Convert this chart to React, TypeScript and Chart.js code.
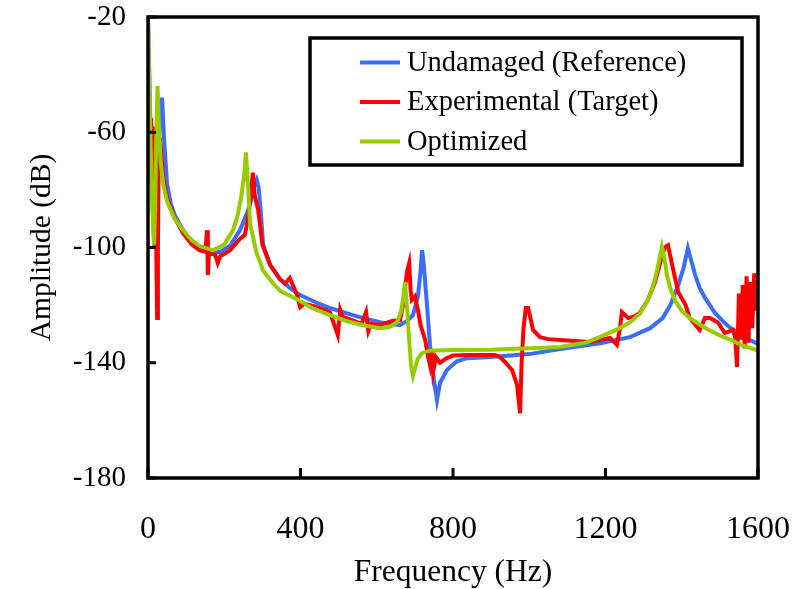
import React, { useEffect, useRef } from "react";
import { Chart, registerables } from "chart.js";

Chart.register(...registerables);

// ---- Data (frequency in Hz, amplitude in dB) ----
const undamagedHz = [0, 3, 6, 10, 14, 17, 21, 26, 31, 37, 42, 50, 60, 71, 92, 115, 136, 170, 190, 215, 241, 260, 272, 280, 285, 290, 296, 302, 320, 346, 372, 399, 440, 477, 520, 564, 609, 640, 661, 680, 695, 708, 715, 719, 724, 730, 740, 750, 758, 766, 784, 810, 837, 900, 1000, 1081, 1186, 1264, 1317, 1350, 1370, 1391, 1405, 1416, 1428, 1435, 1447, 1461, 1487, 1519, 1545, 1570, 1600];
const undamagedDb = [-20, -38, -55, -75, -92, -100, -88, -70, -56, -48, -62, -78, -85, -89, -94, -98, -100.5, -102, -101.5, -99.5, -94, -88, -83, -78, -76.5, -79, -88, -99, -106, -111, -114, -116.5, -119, -121, -122.8, -124.5, -125.9, -126.7, -126.9, -125.5, -123.5, -117, -108, -100.9, -107, -117, -134.5, -146, -153, -147, -142.5, -139.5, -138.4, -138, -137, -135.2, -133.2, -131.1, -128, -124.5, -120, -113, -107, -100.2, -106, -109.5, -114, -117.5, -122.7, -127, -129.5, -131.5, -133.5];

const experimentalHz = [0, 3, 5, 8, 11, 14, 18, 21, 24, 26, 28, 31, 34, 40, 50, 71, 92, 115, 136, 150, 155, 157, 160, 176, 183, 190, 215, 241, 254, 262, 268, 275, 280, 289, 300, 320, 333, 346, 360, 372, 380, 391, 399, 410, 440, 477, 498, 504, 510, 540, 560, 572, 578, 585, 609, 640, 661, 669, 675, 680, 685, 689, 692, 700, 708, 715, 727, 734, 740, 745, 748, 755, 766, 784, 800, 845, 910, 923, 936, 955, 968, 976, 980, 985, 991, 997, 1004, 1010, 1028, 1050, 1081, 1159, 1212, 1230, 1238, 1243, 1252, 1259, 1275, 1290, 1310, 1330, 1343, 1355, 1364, 1370, 1375, 1383, 1391, 1410, 1421, 1447, 1461, 1474, 1495, 1513, 1534, 1540, 1545, 1550, 1555, 1560, 1565, 1570, 1575, 1580, 1585, 1590, 1595, 1600];
const experimentalDb = [-56, -52, -60, -55, -65, -58, -75, -95, -124.5, -100, -72, -62, -66, -76, -83, -90, -95, -99, -101, -101.5, -94, -109.5, -102, -102.5, -105.4, -103, -101, -97, -95.7, -90, -84, -74, -82, -87, -99, -106, -108.5, -111, -112.5, -110.6, -113, -116.5, -120.7, -119.5, -120.5, -122.4, -130.4, -121.7, -124, -125.5, -126.5, -122.4, -129, -126.5, -126.9, -125.5, -125.2, -120, -113, -108, -105.4, -115, -118.2, -117, -121.7, -127, -132, -137.5, -141, -136, -143, -138, -140, -138.4, -137.5, -137.3, -137.3, -138, -139.7, -142.5, -147.7, -157.5, -140, -128, -121, -121, -125, -128.6, -131.1, -131.8, -132.1, -132.8, -131.4, -133.8, -128, -122.4, -123.5, -124.5, -124, -122.7, -118.5, -112, -105.5, -100, -99.2, -103, -106.1, -111, -115.5, -120, -124.5, -128.6, -124.5, -124.5, -126, -129.7, -128.6, -131, -141.5, -116, -132, -113, -135, -110, -133, -112, -128, -109, -122, -110];

const optimizedHz = [0, 3, 6, 10, 14, 16, 19, 22, 25, 28, 33, 40, 50, 70, 92, 115, 136, 170, 200, 223, 235, 245, 252, 257, 262, 268, 285, 302, 325, 346, 391, 430, 477, 520, 564, 609, 635, 653, 664, 670, 674, 679, 685, 690, 695, 700, 708, 720, 740, 800, 900, 1000, 1081, 1150, 1186, 1230, 1264, 1290, 1304, 1317, 1330, 1340, 1348, 1355, 1361, 1372, 1383, 1400, 1421, 1450, 1474, 1500, 1527, 1560, 1600];
const optimizedDb = [-20, -40, -60, -80, -95, -99, -85, -60, -44, -55, -70, -78, -84, -90, -94, -97.5, -99.5, -101, -99, -94, -89, -82, -75, -67, -78, -92, -102, -108, -112, -115, -118, -121, -123.5, -125.5, -127, -128, -127.5, -126, -122, -117, -112, -120, -132, -141, -144.5, -142, -138.5, -136.5, -135.8, -135.6, -135.5, -135, -134.5, -133, -131, -128.5, -126, -123, -120, -116.5, -111, -105, -99.8, -104, -109.5, -115, -118.5, -122, -124.5, -127, -128.8, -130.5, -132, -134, -135.8];

const seriesNames = ["Undamaged (Reference)", "Experimental (Target)", "Optimized"];
const seriesColors = ["#3b6ef6", "#ff0000", "#99cc00"];

const xTicks = [0, 400, 800, 1200, 1600];
const yTicks = [-180, -140, -100, -60, -20];

const SERIF = "'Liberation Serif', 'Times New Roman', serif";

function toPoints(xs: number[], ys: number[]) {
  return xs.map((x, i) => ({ x, y: ys[i] }));
}

const framePlugin = {
  id: "frameAndLegend",
  afterDraw(chart: any) {
    const { ctx, chartArea, scales } = chart;
    const { left, right, top, bottom } = chartArea;
    ctx.save();
    ctx.strokeStyle = "#000";
    ctx.lineWidth = 3.5;
    ctx.strokeRect(left, top, right - left, bottom - top);
    ctx.lineWidth = 3;
    xTicks.forEach((v) => {
      const px = scales.x.getPixelForValue(v);
      ctx.beginPath();
      ctx.moveTo(px, bottom);
      ctx.lineTo(px, bottom - 10);
      ctx.stroke();
    });
    yTicks.forEach((v) => {
      const py = scales.y.getPixelForValue(v);
      ctx.beginPath();
      ctx.moveTo(left, py);
      ctx.lineTo(left + 8, py);
      ctx.stroke();
    });
    const bx = left + 162;
    const by = top + 21;
    const bw = 432;
    const bh = 127;
    ctx.fillStyle = "#fff";
    ctx.fillRect(bx, by, bw, bh);
    ctx.lineWidth = 3.5;
    ctx.strokeRect(bx, by, bw, bh);
    ctx.font = `28.5px ${SERIF}`;
    ctx.textBaseline = "middle";
    ctx.textAlign = "left";
    seriesNames.forEach((name, i) => {
      const ry = by + 24.5 + i * 39.5;
      ctx.strokeStyle = seriesColors[i];
      ctx.lineWidth = 4;
      ctx.beginPath();
      ctx.moveTo(bx + 50, ry);
      ctx.lineTo(bx + 90, ry);
      ctx.stroke();
      ctx.fillStyle = "#000";
      ctx.fillText(name, bx + 97, ry + 1);
    });
    ctx.restore();
  },
};

export default function App() {
  const canvasRef = useRef<HTMLCanvasElement | null>(null);

  useEffect(() => {
    if (!canvasRef.current) return;
    const datasets = [
      { xs: undamagedHz, ys: undamagedDb, order: 2 },
      { xs: experimentalHz, ys: experimentalDb, order: 1 },
      { xs: optimizedHz, ys: optimizedDb, order: 0 },
    ].map((s, i) => ({
      label: seriesNames[i],
      data: toPoints(s.xs, s.ys),
      borderColor: seriesColors[i],
      backgroundColor: seriesColors[i],
      borderWidth: 4,
      pointRadius: 0,
      showLine: true,
      tension: 0,
      order: s.order,
    }));

    const zeroPad = (scale: any) => {
      scale.paddingLeft = 0;
      scale.paddingRight = 0;
      scale.paddingTop = 0;
      scale.paddingBottom = 0;
    };

    const chart = new Chart(canvasRef.current, {
      type: "scatter",
      data: { datasets },
      plugins: [framePlugin],
      options: {
        animation: false,
        responsive: false,
        layout: { padding: { left: 0, top: 17, right: 42, bottom: 0 } },
        plugins: {
          legend: { display: false },
          tooltip: { enabled: false },
        },
        scales: {
          x: {
            type: "linear",
            min: 0,
            max: 1600,
            afterBuildTicks: (scale: any) => {
              scale.ticks = xTicks.map((v) => ({ value: v }));
            },
            afterFit: (scale: any) => {
              scale.height = 111;
              zeroPad(scale);
            },
            grid: { display: false, drawTicks: false },
            border: { display: false },
            ticks: {
              color: "#000",
              padding: 32,
              maxRotation: 0,
              font: { family: SERIF, size: 32 },
              callback: (v: any) => String(v),
            },
            title: {
              display: true,
              text: "Frequency (Hz)",
              color: "#000",
              font: { family: SERIF, size: 31.5, lineHeight: 1.05 },
              padding: { top: 0, bottom: 0 },
            },
          },
          y: {
            type: "linear",
            min: -180,
            max: -20,
            afterBuildTicks: (scale: any) => {
              scale.ticks = yTicks.map((v) => ({ value: v }));
            },
            afterFit: (scale: any) => {
              scale.width = 148;
              zeroPad(scale);
            },
            grid: { display: false, drawTicks: false },
            border: { display: false },
            ticks: {
              color: "#000",
              padding: 22,
              font: { family: SERIF, size: 29 },
              callback: (v: any) => String(v),
            },
            title: {
              display: true,
              text: "Amplitude (dB)",
              color: "#000",
              font: { family: SERIF, size: 29.5 },
              padding: { top: 25, bottom: 0 },
            },
          },
        },
      },
    });
    return () => chart.destroy();
  }, []);

  return (
    <div style={{ position: "absolute", left: 0, top: 0, width: 800, height: 589, background: "#fff" }}>
      <canvas ref={canvasRef} width={800} height={589} />
    </div>
  );
}
